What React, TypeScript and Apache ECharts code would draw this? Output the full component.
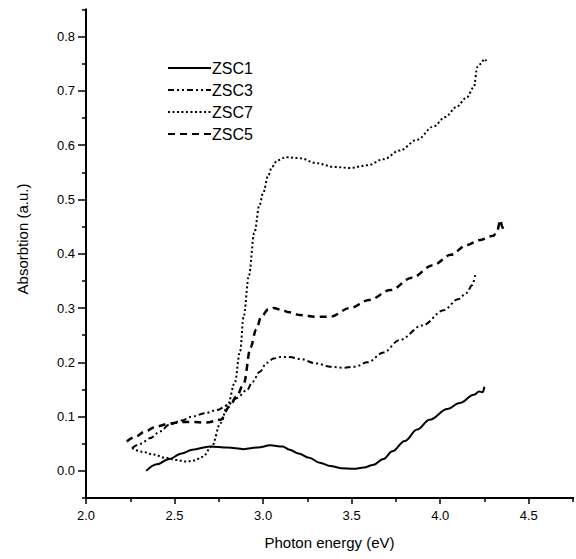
import React, { useEffect, useRef } from "react";
import * as echarts from "echarts";

const seriesNames = ["ZSC1", "ZSC3", "ZSC7", "ZSC5"];

const zsc1: number[][] = [
  [2.34, 0.0], [2.40, 0.012], [2.47, 0.022], [2.54, 0.032], [2.60, 0.039], [2.70, 0.045],
  [2.80, 0.043], [2.89, 0.040], [2.97, 0.043], [3.04, 0.047], [3.11, 0.045], [3.15, 0.039],
  [3.20, 0.032], [3.26, 0.024], [3.32, 0.015], [3.38, 0.009], [3.44, 0.005], [3.51, 0.004],
  [3.57, 0.006], [3.62, 0.011], [3.68, 0.022], [3.73, 0.036], [3.80, 0.055], [3.87, 0.076],
  [3.94, 0.094], [4.04, 0.114], [4.11, 0.125], [4.19, 0.14], [4.22, 0.146], [4.24, 0.145],
  [4.25, 0.155],
];

const zsc3: number[][] = [
  [2.26, 0.042], [2.31, 0.05], [2.36, 0.06], [2.42, 0.073], [2.47, 0.085], [2.54, 0.093],
  [2.60, 0.100], [2.67, 0.106], [2.74, 0.112], [2.80, 0.121], [2.85, 0.134], [2.91, 0.149],
  [2.94, 0.164], [2.98, 0.182], [3.02, 0.199], [3.06, 0.207], [3.10, 0.21], [3.15, 0.21],
  [3.21, 0.206], [3.30, 0.198], [3.38, 0.192], [3.45, 0.19], [3.52, 0.192], [3.59, 0.2],
  [3.68, 0.218], [3.77, 0.241], [3.90, 0.268], [4.02, 0.296], [4.10, 0.316], [4.15, 0.328],
  [4.18, 0.342], [4.2, 0.364],
];

const zsc7: number[][] = [
  [2.26, 0.042], [2.32, 0.035], [2.38, 0.03], [2.45, 0.024], [2.51, 0.02], [2.57, 0.017],
  [2.61, 0.019], [2.66, 0.026], [2.71, 0.045], [2.76, 0.088], [2.80, 0.121], [2.84, 0.162],
  [2.87, 0.22], [2.89, 0.284], [2.92, 0.36], [2.95, 0.438], [2.98, 0.49], [3.00, 0.512],
  [3.03, 0.545], [3.05, 0.56], [3.08, 0.572], [3.13, 0.578], [3.21, 0.576], [3.30, 0.567],
  [3.40, 0.56], [3.49, 0.558], [3.59, 0.563], [3.68, 0.574], [3.77, 0.59], [3.87, 0.61],
  [3.96, 0.634], [4.03, 0.652], [4.09, 0.67], [4.15, 0.688], [4.19, 0.707], [4.21, 0.744],
  [4.23, 0.75], [4.25, 0.759], [4.26, 0.755],
];

const zsc5: number[][] = [
  [2.23, 0.054], [2.28, 0.063], [2.33, 0.072], [2.40, 0.082], [2.47, 0.087], [2.54, 0.09],
  [2.59, 0.09], [2.68, 0.089], [2.76, 0.094], [2.81, 0.118], [2.85, 0.137], [2.89, 0.16],
  [2.93, 0.228], [2.96, 0.26], [2.99, 0.284], [3.03, 0.298], [3.06, 0.30], [3.10, 0.297],
  [3.15, 0.292], [3.21, 0.287], [3.30, 0.284], [3.38, 0.284], [3.49, 0.30], [3.60, 0.315],
  [3.72, 0.333], [3.84, 0.356], [3.96, 0.379], [4.06, 0.398], [4.15, 0.416], [4.22, 0.425],
  [4.30, 0.433], [4.32, 0.44], [4.34, 0.462], [4.35, 0.45], [4.36, 0.438],
];

const xMajorTicks = [2.0, 2.5, 3.0, 3.5, 4.0, 4.5];
const xMinorTicks = [2.25, 2.75, 3.25, 3.75, 4.25, 4.75];
const yMajorTicks = [0.0, 0.1, 0.2, 0.3, 0.4, 0.5, 0.6, 0.7, 0.8];
const yMinorTicks = [-0.05, 0.05, 0.15, 0.25, 0.35, 0.45, 0.55, 0.65, 0.75, 0.85];

const xName = "Photon energy (eV)";
const yName = "Absorbtion (a.u.)";

const FONT = "'Liberation Sans', Arial, sans-serif";

export default function App() {
  const ref = useRef<HTMLDivElement>(null);
  useEffect(() => {
    if (!ref.current) return;
    const chart = echarts.init(ref.current, undefined, { renderer: "svg" });
    const axisLine = { show: true, onZero: false, lineStyle: { color: "#000", width: 2 } };
    const xBase = { type: "value", min: 2.0, max: 4.75, splitLine: { show: false }, axisLine };
    const yBase = { type: "value", min: -0.05, max: 0.85, splitLine: { show: false }, axisLine };
    const lineCommon = { type: "line", symbol: "none", showSymbol: false, smooth: 0.35, smoothMonotone: "x" };
    chart.setOption({
      animation: false,
      grid: { left: 86, right: 3, top: 9.5, bottom: 61 },
      legend: {
        orient: "vertical",
        left: 167,
        top: 60,
        padding: 0,
        itemWidth: 43,
        itemHeight: 14,
        itemGap: 6,
        itemStyle: { opacity: 0 },
        data: seriesNames,
        textStyle: { fontFamily: FONT, fontSize: 16, color: "#000", padding: [0, 0, 0, -4] },
      },
      xAxis: [
        {
          ...xBase,
          name: xName,
          nameLocation: "middle",
          nameGap: 37,
          nameTextStyle: { fontFamily: FONT, fontSize: 15, color: "#000" },
          axisTick: { show: true, customValues: xMajorTicks, length: 6, lineStyle: { color: "#000", width: 1.5 } },
          axisLabel: {
            customValues: xMajorTicks,
            margin: 11,
            fontFamily: FONT,
            fontSize: 13,
            color: "#000",
            formatter: (v: number) => v.toFixed(1),
          },
        },
        {
          ...xBase,
          position: "bottom",
          axisTick: { show: true, customValues: xMinorTicks, length: 4, lineStyle: { color: "#000", width: 1.5 } },
          axisLabel: { show: false },
        },
      ],
      yAxis: [
        {
          ...yBase,
          axisTick: { show: true, customValues: yMajorTicks, length: 8, lineStyle: { color: "#000", width: 1.5 } },
          axisLabel: {
            customValues: yMajorTicks,
            margin: 11,
            fontFamily: FONT,
            fontSize: 13,
            color: "#000",
            formatter: (v: number) => v.toFixed(1),
          },
        },
        {
          ...yBase,
          position: "left",
          axisTick: { show: true, customValues: yMinorTicks, length: 4, lineStyle: { color: "#000", width: 1.5 } },
          axisLabel: { show: false },
        },
      ],
      graphic: [
        {
          type: "text",
          x: 22,
          y: 239,
          rotation: Math.PI / 2,
          style: {
            text: yName,
            font: `15px ${FONT}`,
            fill: "#000",
            align: "center",
            verticalAlign: "middle",
          },
        },
      ],
      series: [
        { ...lineCommon, name: "ZSC1", data: zsc1, lineStyle: { color: "#000", width: 2, type: "solid" }, itemStyle: { color: "#000" } },
        { ...lineCommon, name: "ZSC3", data: zsc3, lineStyle: { color: "#000", width: 2, type: [6, 3, 2, 3, 2, 3] }, itemStyle: { color: "#000" } },
        { ...lineCommon, name: "ZSC7", data: zsc7, lineStyle: { color: "#000", width: 2, type: [2, 2.5] }, itemStyle: { color: "#000" } },
        { ...lineCommon, name: "ZSC5", data: zsc5, lineStyle: { color: "#000", width: 2.5, type: [7, 5] }, itemStyle: { color: "#000" } },
      ],
    });
    return () => chart.dispose();
  }, []);
  return (
    <div
      ref={ref}
      style={{ position: "fixed", left: 0, top: 0, width: 576, height: 559, background: "#fff" }}
    />
  );
}
